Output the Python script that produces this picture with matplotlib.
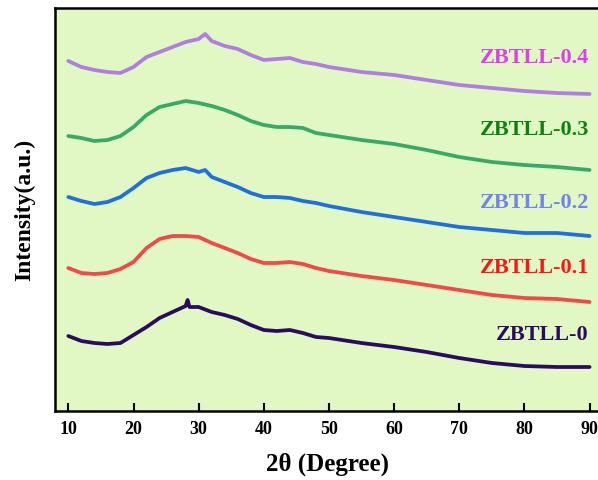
import matplotlib.pyplot as plt

plt.rcParams['font.family'] = 'Liberation Serif'
plt.rcParams['font.weight'] = 'bold'

# 2theta positions
x_main = [10, 12, 14, 16, 18, 20, 22, 24, 26, 28, 30, 32, 34, 36, 38, 40,
          42, 44, 46, 48, 50, 55, 60, 65, 70, 75, 80, 85, 90]
x_04 = [10, 12, 14, 16, 18, 20, 22, 24, 26, 28, 30, 31, 32, 34, 36, 38, 40,
        42, 44, 46, 48, 50, 55, 60, 65, 70, 75, 80, 85, 90]
x_02 = x_04
x_0 = [10, 12, 14, 16, 18, 20, 22, 24, 26, 28, 28.3, 28.6, 30, 32, 34, 36, 38, 40,
       42, 44, 46, 48, 50, 55, 60, 65, 70, 75, 80, 85, 90]

# intensities (stacked, arbitrary units)
y_04 = [350, 344, 341, 339, 338, 344, 354, 359, 364, 369, 372, 377, 370, 365,
        362, 356, 351, 352, 353, 349, 347, 344, 339, 336, 331, 326, 323, 320, 318, 317]
y_03 = [275, 273, 270, 271, 275, 284, 296, 304, 307, 310, 308, 305, 301, 296,
        290, 286, 284, 284, 283, 278, 276, 271, 267, 261, 254, 249, 246, 244, 241]
y_02 = [214, 210, 207, 209, 214, 223, 233, 238, 241, 243, 239, 241, 234, 229,
        224, 218, 214, 214, 213, 210, 208, 205, 199, 194, 189, 184, 181, 178, 178, 175]
y_01 = [143, 138, 137, 138, 142, 149, 163, 172, 175, 175, 174, 168, 163, 158,
        152, 148, 148, 149, 147, 143, 140, 135, 131, 126, 121, 116, 113, 112, 109]
y_0 = [75, 70, 68, 67, 68, 76, 84, 93, 99, 105, 111, 104, 104, 99, 96, 92, 86, 81,
       80, 81, 78, 74, 73, 68, 64, 59, 53, 48, 45, 44, 44]

names = ['ZBTLL-0.4', 'ZBTLL-0.3', 'ZBTLL-0.2', 'ZBTLL-0.1', 'ZBTLL-0']
line_colors = ['#B27DE0', '#38AA68', '#1E6FE0', '#F24848', '#2B0B60']
label_colors = ['#E03CF0', '#0E820E', '#7282F2', '#FF1414', '#2B0B60']
label_y = [353, 281, 208, 143, 76]

fig = plt.figure(figsize=(5.98, 4.8), dpi=100)
ax = fig.add_axes([55 / 598, 69 / 480, 545 / 598, 403 / 480])
ax.set_facecolor('#E1F7C4')

series = [(x_04, y_04), (x_main, y_03), (x_02, y_02), (x_main, y_01), (x_0, y_0)]
for (xs, ys), c in zip(series, line_colors):
    ax.plot(xs, ys, color=c, lw=2.7, solid_joinstyle='round', solid_capstyle='round')

for name, c, ly in zip(names, label_colors, label_y):
    ax.text(89.9, ly, name, color=c, fontsize=16, fontweight='bold',
            ha='right', va='center')

ax.set_xlim(7.95, 91.6)
ax.set_ylim(0, 403)
ax.set_xticks(range(10, 91, 10))
ax.set_yticks([])
ax.tick_params(axis='x', direction='in', length=6, width=1.5, labelsize=13, pad=7)
for lab in ax.get_xticklabels():
    lab.set_fontweight('bold')
for s in ax.spines.values():
    s.set_linewidth(1.8)

ax.set_xlabel('2θ (Degree)', fontsize=18, fontweight='bold', labelpad=11)
ax.set_ylabel('Intensity(a.u.)', fontsize=17, fontweight='bold', labelpad=14)

fig.savefig('out.png', dpi=100)
